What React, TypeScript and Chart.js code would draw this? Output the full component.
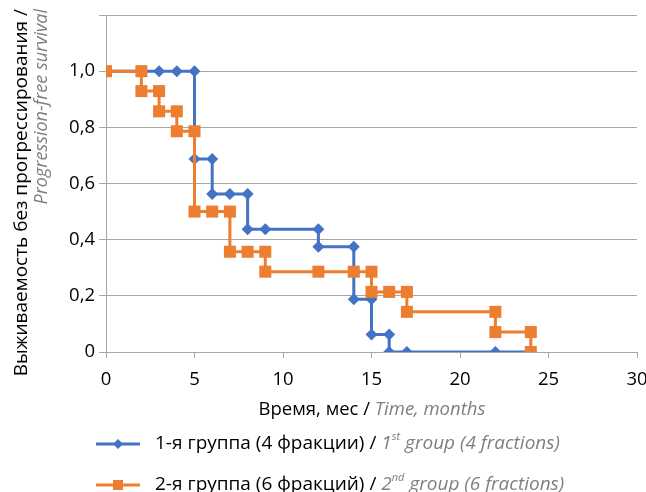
import React, { useEffect, useRef } from "react";
import { Chart, registerables } from "chart.js";

Chart.register(...registerables);

const group1Times = [0, 3, 4, 5, 5, 6, 6, 7, 8, 8, 9, 12, 12, 14, 14, 15, 15, 16, 16, 17, 22, 24];
const group1Survival = [1, 1, 1, 1, 0.6875, 0.6875, 0.5625, 0.5625, 0.5625, 0.4375, 0.4375, 0.4375, 0.375, 0.375, 0.1875, 0.1875, 0.0625, 0.0625, 0, 0, 0, 0];
const group2Times = [0, 2, 2, 3, 3, 4, 4, 5, 5, 6, 7, 7, 8, 9, 9, 12, 14, 15, 15, 16, 17, 17, 22, 22, 24, 24];
const group2Survival = [1, 1, 0.929, 0.929, 0.857, 0.857, 0.786, 0.786, 0.5, 0.5, 0.5, 0.357, 0.357, 0.357, 0.286, 0.286, 0.286, 0.286, 0.214, 0.214, 0.214, 0.143, 0.143, 0.071, 0.071, 0];

const group1LabelRu = "1-я группа (4 фракции) / ";
const group1LabelEn = ["1", "st", " group (4 fractions)"];
const group2LabelRu = "2-я группа (6 фракций) / ";
const group2LabelEn = ["2", "nd", " group (6 fractions)"];
const yTitleRu = "Выживаемость без прогрессирования /";
const yTitleEn = "Progression-free survival";
const xTitleRu = "Время, мес / ";
const xTitleEn = "Time, months";

const BLUE = "#4472C4";
const ORANGE = "#ED7D31";
const GRAY = "#7F7F7F";
const GRID = "#A6A6A6";
const FONT = "'Open Sans', 'Noto Sans', sans-serif";
const FS = 18.5;
const LFS = 19;

const annotations = {
  id: "annotations",
  afterDraw(chart: any) {
    const ctx = chart.ctx as CanvasRenderingContext2D;
    ctx.save();
    // Y title
    ctx.save();
    ctx.translate(22, 9);
    ctx.rotate(-Math.PI / 2);
    ctx.textAlign = "right";
    ctx.textBaseline = "middle";
    ctx.font = `19px ${FONT}`;
    ctx.fillStyle = "#000";
    ctx.fillText(yTitleRu, 0, 0);
    ctx.font = `italic 18px ${FONT}`;
    ctx.fillStyle = GRAY;
    ctx.fillText(yTitleEn, 0, 20);
    ctx.restore();

    // X title
    ctx.textBaseline = "middle";
    ctx.textAlign = "left";
    ctx.font = `${FS}px ${FONT}`;
    const w1 = ctx.measureText(xTitleRu).width;
    ctx.font = `italic ${FS}px ${FONT}`;
    const w2 = ctx.measureText(xTitleEn).width;
    const xs = 372 - (w1 + w2) / 2;
    ctx.font = `${FS}px ${FONT}`;
    ctx.fillStyle = "#000";
    ctx.fillText(xTitleRu, xs, 410);
    ctx.font = `italic ${FS}px ${FONT}`;
    ctx.fillStyle = GRAY;
    ctx.fillText(xTitleEn, xs + w1, 410);

    // Legend
    const rows = [
      { y: 444, color: BLUE, style: "diamond", ru: group1LabelRu, en: group1LabelEn },
      { y: 485, color: ORANGE, style: "square", ru: group2LabelRu, en: group2LabelEn },
    ];
    rows.forEach((r) => {
      ctx.strokeStyle = r.color;
      ctx.lineWidth = 3;
      ctx.beginPath();
      ctx.moveTo(96, r.y);
      ctx.lineTo(140, r.y);
      ctx.stroke();
      ctx.fillStyle = r.color;
      if (r.style === "diamond") {
        ctx.beginPath();
        ctx.moveTo(118, r.y - 5);
        ctx.lineTo(123, r.y);
        ctx.lineTo(118, r.y + 5);
        ctx.lineTo(113, r.y);
        ctx.closePath();
        ctx.fill();
      } else {
        ctx.fillRect(113, r.y - 5, 10, 10);
      }
      let x = 155;
      ctx.font = `${LFS}px ${FONT}`;
      ctx.fillStyle = "#000";
      ctx.fillText(r.ru, x, r.y);
      x += ctx.measureText(r.ru).width;
      ctx.fillStyle = GRAY;
      ctx.font = `italic ${LFS}px ${FONT}`;
      ctx.fillText(r.en[0], x, r.y);
      x += ctx.measureText(r.en[0]).width;
      ctx.font = `italic 11px ${FONT}`;
      ctx.fillText(r.en[1], x, r.y - 7);
      x += ctx.measureText(r.en[1]).width;
      ctx.font = `italic ${LFS}px ${FONT}`;
      ctx.fillText(r.en[2], x, r.y);
    });
    ctx.restore();
  },
};

export default function App() {
  const ref = useRef<HTMLCanvasElement>(null);
  useEffect(() => {
    if (!ref.current) return;
    const chart = new Chart(ref.current, {
      type: "line",
      data: {
        datasets: [
          {
            label: "group1",
            data: group1Times.map((x, i) => ({ x, y: group1Survival[i] })),
            borderColor: BLUE,
            backgroundColor: BLUE,
            borderWidth: 3,
            pointStyle: "rectRot",
            pointRadius: 6,
            pointBorderWidth: 0,
            order: 1,
            tension: 0,
          },
          {
            label: "group2",
            data: group2Times.map((x, i) => ({ x, y: group2Survival[i] })),
            borderColor: ORANGE,
            backgroundColor: ORANGE,
            borderWidth: 3,
            pointStyle: "rect",
            pointRadius: 8.5,
            pointBorderWidth: 0,
            order: 0,
            tension: 0,
          },
        ],
      },
      options: {
        responsive: false,
        animation: false,
        layout: { padding: { top: 15, right: 9, bottom: 100, left: 0 } },
        plugins: { legend: { display: false }, tooltip: { enabled: false } },
        scales: {
          x: {
            type: "linear",
            min: 0,
            max: 30,
            afterFit: (s: any) => {
              s.height = 40;
              s.paddingRight = 0;
              s.paddingLeft = 0;
            },
            ticks: {
              stepSize: 5,
              color: "#000",
              font: { family: FONT, size: FS },
              padding: 11,
              maxRotation: 0,
            },
            grid: { drawOnChartArea: false, drawTicks: true, tickLength: 6, color: GRID },
            border: { color: GRID },
          },
          y: {
            min: 0,
            max: 1.2,
            afterFit: (s: any) => {
              s.width = 106;
              s.paddingTop = 0;
              s.paddingBottom = 0;
            },
            ticks: {
              stepSize: 0.2,
              color: "#000",
              font: { family: FONT, size: FS },
              padding: 4,
              callback: (v: any) => {
                const n = Number(v);
                if (Math.abs(n - 1.2) < 1e-6) return "";
                if (Math.abs(n) < 1e-6) return "0";
                return n.toFixed(1).replace(".", ",");
              },
            },
            grid: { color: GRID, tickLength: 7 },
            border: { color: GRID },
          },
        },
      },
      plugins: [annotations],
    });
    return () => chart.destroy();
  }, []);
  return (
    <div style={{ position: "absolute", left: 0, top: 0, width: 646, height: 492, background: "#fff" }}>
      <canvas ref={ref} width={646} height={492} />
    </div>
  );
}
